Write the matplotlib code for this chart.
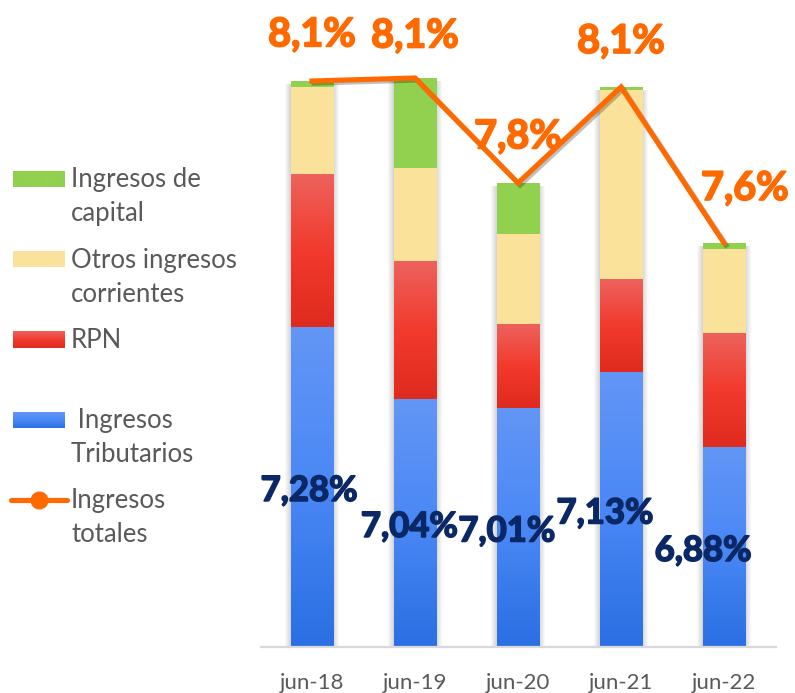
import numpy as np
import matplotlib
matplotlib.use("Agg")
import matplotlib.pyplot as plt
from matplotlib.colors import LinearSegmentedColormap
from matplotlib.lines import Line2D
import matplotlib.patheffects as pe

# ---------------- data ----------------
categories = ["jun-18", "jun-19", "jun-20", "jun-21", "jun-22"]
tributarios = [7.28, 7.04, 7.01, 7.13, 6.88]
rpn = [0.51, 0.46, 0.28, 0.31, 0.38]
otros = [0.29, 0.31, 0.30, 0.63, 0.28]
capital = [0.02, 0.30, 0.17, 0.01, 0.02]
totales = [8.10, 8.11, 7.76, 8.08, 7.56]
trib_labels = ["7,28%", "7,04%", "7,01%", "7,13%", "6,88%"]
total_labels = ["8,1%", "8,1%", "7,8%", "8,1%", "7,6%"]

# ---------------- style ----------------
FONT = "Lato"
plt.rcParams["font.family"] = [FONT, "DejaVu Sans"]
GRAY_TXT = "#595959"
NAVY = "#0b2866"
ORANGE = "#ff6a00"
GREEN = "#92d050"
YELLOW = "#fbe29b"
BLUE_GRAD = ["#2a6fe3", "#4a88f5", "#6396f6"]       # bottom -> top
RED_GRAD = ["#de2b1d", "#f23a2d", "#ed625c"]        # bottom -> top
YMIN = 6.215
PX_PER_UNIT = 300.0
LABEL_WEIGHT = "bold"

W, H = 795, 693
fig = plt.figure(figsize=(W / 100, H / 100), dpi=100)
ax_left, ax_right, ax_bottom_px = 260.5, 775.5, 646.5
ax = fig.add_axes([ax_left / W, (H - ax_bottom_px) / H,
                   (ax_right - ax_left) / W, ax_bottom_px / H])
YMAX = YMIN + ax_bottom_px / PX_PER_UNIT

x = np.arange(len(categories))
bw = 43 / 103.0
px_x = 1 / 103.0
px_y = 1 / PX_PER_UNIT

# shadows behind bars
tot_stack = np.array(tributarios) + np.array(rpn) + np.array(otros) + np.array(capital)
for d in range(1, 7):
    ax.bar(x, tot_stack - 3 * px_y, width=bw + 2 * d * px_x * 0.9, color="black",
           alpha=0.028, zorder=1, linewidth=0)

b1 = np.zeros(len(x))
bars_trib = ax.bar(x, tributarios, bottom=b1, width=bw, color=BLUE_GRAD[1], zorder=2, linewidth=0)
b2 = b1 + np.array(tributarios)
bars_rpn = ax.bar(x, rpn, bottom=b2, width=bw, color=RED_GRAD[1], zorder=2, linewidth=0)
b3 = b2 + np.array(rpn)
bars_otros = ax.bar(x, otros, bottom=b3, width=bw, color=YELLOW, zorder=2, linewidth=0)
b4 = b3 + np.array(otros)
bars_cap = ax.bar(x, capital, bottom=b4, width=bw, color=GREEN, zorder=2, linewidth=0)

grad = np.linspace(0, 1, 256).reshape(-1, 1)


def gradient_fill(bars, colors):
    cmap = LinearSegmentedColormap.from_list("g", colors)
    for p in bars:
        x0 = p.get_x()
        y0 = max(p.get_y(), YMIN)
        y1 = p.get_y() + p.get_height()
        im = ax.imshow(grad, cmap=cmap, origin="lower", aspect="auto",
                       extent=(x0, x0 + p.get_width(), y0, y1), zorder=2.5)
        im.set_clip_path(p)


gradient_fill(bars_trib, BLUE_GRAD)
gradient_fill(bars_rpn, RED_GRAD)

# total line
ax.plot(x, totales, color=ORANGE, lw=3.7, zorder=4, solid_joinstyle="miter",
        path_effects=[pe.SimpleLineShadow(offset=(1.5, -1.5), shadow_color="black", alpha=0.25),
                      pe.Normal()])

# total labels (offsets in points)
tot_off = [(0, 25), (0, 22), (0, 25), (0, 24.5), (15, 31)]
for i, (v, lab) in enumerate(zip(totales, total_labels)):
    ax.annotate(lab, (x[i], v), xytext=tot_off[i], textcoords="offset points",
                ha="center", va="baseline", fontsize=28.5, fontweight=LABEL_WEIGHT,
                color=ORANGE, annotation_clip=False, zorder=6,
                path_effects=[pe.withStroke(linewidth=1.3, foreground=ORANGE)])

# tributarios labels, centred in the visible blue segment
trib_off = [(-2, -3), (-4, -3), (-8, -3), (-11.5, -3), (-15, -3)]
for i, (v, lab) in enumerate(zip(tributarios, trib_labels)):
    ax.annotate(lab, (x[i], (YMIN + v) / 2), xytext=trib_off[i], textcoords="offset points",
                ha="center", va="center", fontsize=25, fontweight=LABEL_WEIGHT,
                color=NAVY, zorder=6,
                path_effects=[pe.withStroke(linewidth=1.2, foreground=NAVY)])

ax.set_xlim(-0.5, len(x) - 0.5)
ax.set_ylim(YMIN, YMAX)
ax.set_yticks([])
ax.set_xticks(x)
ax.set_xticklabels(categories, fontsize=16, color=GRAY_TXT)
ax.tick_params(axis="x", length=0, pad=19)
for s in ["top", "right", "left"]:
    ax.spines[s].set_visible(False)
ax.spines["bottom"].set_color("#d9d9d9")
ax.spines["bottom"].set_linewidth(1.6)
ax.spines["bottom"].set_zorder(3)
ax.patch.set_alpha(0)

# ---------------- legend (manual) ----------------
def fy(py):
    return (H - py) / H


def legend_patch(py_top, py_bot, colors):
    lax = fig.add_axes([13 / W, fy(py_bot), 52 / W, (py_bot - py_top) / H])
    cmap = LinearSegmentedColormap.from_list("l", colors)
    lax.imshow(grad, cmap=cmap, origin="lower", aspect="auto")
    lax.axis("off")


legend_patch(171, 187, [GREEN, GREEN])
legend_patch(251, 267, [YELLOW, YELLOW])
legend_patch(331, 348, RED_GRAD)
legend_patch(412, 428, BLUE_GRAD)

fig.add_artist(Line2D([11 / W, 67 / W], [fy(500), fy(500)], color=ORANGE, lw=3.7,
                      solid_capstyle="round"))
fig.add_artist(Line2D([39 / W], [fy(500)], color=ORANGE, marker="o", markersize=12,
                      linestyle="none"))

legend_lines = [
    ("Ingresos de", 187.5), ("capital", 221.5),
    ("Otros ingresos", 268), ("corrientes", 302),
    ("RPN", 348),
    (" Ingresos", 428), ("Tributarios", 462),
    ("Ingresos", 508), ("totales", 542),
]
for txt, base in legend_lines:
    fig.text(71 / W, fy(base), txt, fontsize=18.5, color=GRAY_TXT, ha="left", va="baseline")

fig.savefig("out.png", dpi=100)
